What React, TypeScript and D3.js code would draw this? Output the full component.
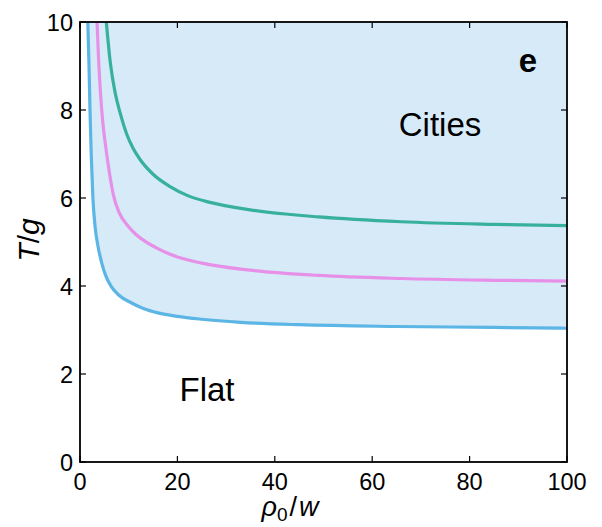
import React from "react";
import * as d3 from "d3";

const xTicks = [0, 20, 40, 60, 80, 100];
const yTicks = [0, 2, 4, 6, 8, 10];

const blueX = [1.6, 1.85, 2.05, 2.3, 2.65, 3.1, 3.7, 4.4, 5.3, 6.4, 8, 10.5, 13, 16, 20, 25, 33, 45, 65, 85, 100];
const blueT = [10, 9, 8, 7, 6, 5.35, 4.9, 4.55, 4.23, 3.99, 3.79, 3.62, 3.49, 3.39, 3.31, 3.245, 3.175, 3.12, 3.08, 3.06, 3.04];

const pinkX = [3.5, 3.8, 4.2, 4.7, 5.3, 6.0, 6.9, 8, 9.9, 11.5, 13.3, 16, 18.5, 25, 35, 49, 66, 85, 100];
const pinkT = [10, 9.2, 8.4, 7.7, 7.15, 6.6, 6.05, 5.68, 5.36, 5.17, 5.02, 4.85, 4.72, 4.52, 4.36, 4.24, 4.17, 4.13, 4.11];

const tealX = [5.4, 6.2, 7.2, 8.2, 9.6, 10.9, 12.3, 15, 18.5, 22, 26.7, 35, 49, 66, 85, 100];
const tealT = [10, 9.1, 8.4, 7.95, 7.45, 7.13, 6.88, 6.54, 6.26, 6.06, 5.9, 5.73, 5.57, 5.46, 5.4, 5.37];

const W = 602, H = 527;
const L = 80, R = 567, T = 22, B = 462;

export default function App() {
  const x = d3.scaleLinear().domain([0, 100]).range([L, R]);
  const y = d3.scaleLinear().domain([0, 10]).range([B, T]);
  const curve = d3.curveMonotoneX;
  const pts = (xs: number[], ts: number[]) => xs.map((v, i) => [v, ts[i]] as [number, number]);
  const line = d3.line<[number, number]>().x(d => x(d[0])).y(d => y(d[1])).curve(curve);
  const area = d3.area<[number, number]>().x(d => x(d[0])).y0(y(10)).y1(d => y(d[1])).curve(curve);
  const blue = pts(blueX, blueT);
  const font = "'Liberation Sans', Arial, Helvetica, sans-serif";
  const tl = 6;
  return (
    <svg width={W} height={H} style={{ position: "absolute", left: 0, top: 0 }} fontFamily={font}>
      <defs>
        <clipPath id="plot"><rect x={L} y={T} width={R - L} height={B - T} /></clipPath>
      </defs>
      <rect x={0} y={0} width={W} height={H} fill="white" />
      <g clipPath="url(#plot)">
        <path d={area(blue) || ""} fill="#d6eaf8" />
        <path d={line(pts(tealX, tealT)) || ""} fill="none" stroke="#38b09e" strokeWidth={3.2} />
        <path d={line(pts(pinkX, pinkT)) || ""} fill="none" stroke="#e690e8" strokeWidth={3.2} />
        <path d={line(blue) || ""} fill="none" stroke="#5bb5e5" strokeWidth={3.2} />
      </g>
      {xTicks.map(t => (
        <g key={"x" + t}>
          <line x1={x(t)} x2={x(t)} y1={B} y2={B - tl} stroke="black" strokeWidth={1.2} />
          <line x1={x(t)} x2={x(t)} y1={T} y2={T + tl} stroke="black" strokeWidth={1.2} />
          <text x={x(t)} y={490} textAnchor="middle" fontSize={23.5}>{t}</text>
        </g>
      ))}
      {yTicks.map(t => (
        <g key={"y" + t}>
          <line x1={L} x2={L + tl} y1={y(t)} y2={y(t)} stroke="black" strokeWidth={1.2} />
          <line x1={R} x2={R - tl} y1={y(t)} y2={y(t)} stroke="black" strokeWidth={1.2} />
          <text x={73} y={y(t) + 8.5} textAnchor="end" fontSize={23.5}>{t}</text>
        </g>
      ))}
      <rect x={L} y={T} width={R - L} height={B - T} fill="none" stroke="black" strokeWidth={1.8} />
      <text x={440} y={136} textAnchor="middle" fontSize={33}>Cities</text>
      <text x={207} y={401} textAnchor="middle" fontSize={33}>Flat</text>
      <text x={528} y={72} textAnchor="middle" fontSize={33} fontWeight="bold">e</text>
      <text transform="translate(39,240) rotate(-90)" textAnchor="middle" fontSize={30} fontStyle="italic">
        T<tspan fontStyle="normal">/</tspan>g
      </text>
      <text x={290} y={516} textAnchor="middle" fontSize={27}>
        <tspan fontStyle="italic">ρ</tspan>
        <tspan fontSize={19} dy={5}>0</tspan>
        <tspan dy={-5} dx={2}>/</tspan>
        <tspan fontStyle="italic" dx={2}>w</tspan>
      </text>
    </svg>
  );
}
